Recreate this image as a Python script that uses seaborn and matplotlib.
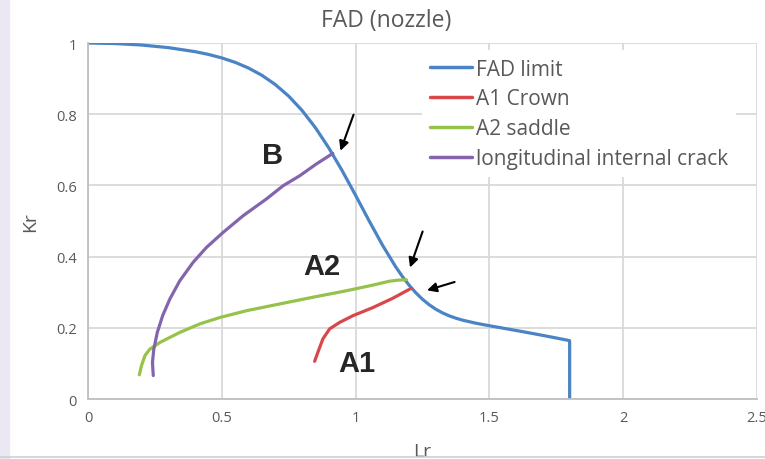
import pandas as pd
import matplotlib.pyplot as plt
import seaborn as sns
from matplotlib.patches import Rectangle
from matplotlib.lines import Line2D

# data
fad_lr = [0, 0.1, 0.2, 0.3, 0.4, 0.45, 0.5, 0.55, 0.6, 0.65, 0.7, 0.75, 0.8, 0.85, 0.9,
          0.95, 1.0, 1.05, 1.1, 1.15, 1.175, 1.2, 1.225, 1.25, 1.275, 1.3, 1.325, 1.35,
          1.375, 1.4, 1.45, 1.5, 1.55, 1.6, 1.65, 1.7, 1.75, 1.8, 1.8]
fad_kr = [1.0, 0.9986, 0.9944, 0.9871, 0.9758, 0.968, 0.9582, 0.9457, 0.9297, 0.9093,
          0.8834, 0.8508, 0.8106, 0.762, 0.7053, 0.6413, 0.5723, 0.5014, 0.433, 0.3713,
          0.3441, 0.3198, 0.2985, 0.2802, 0.2649, 0.2522, 0.2419, 0.2336, 0.227, 0.2215,
          0.2129, 0.2058, 0.1992, 0.1925, 0.1857, 0.1786, 0.1714, 0.1639, 0.0]

a1_lr = [0.847, 0.859, 0.878, 0.903, 0.94, 0.99, 1.065, 1.139, 1.208]
a1_kr = [0.106, 0.131, 0.169, 0.197, 0.215, 0.234, 0.257, 0.283, 0.311]

a2_lr = [0.192, 0.2, 0.213, 0.231, 0.269, 0.343, 0.418, 0.493, 0.592, 0.716, 0.841,
         0.965, 1.065, 1.127, 1.16, 1.19]
a2_kr = [0.068, 0.094, 0.122, 0.14, 0.159, 0.187, 0.211, 0.229, 0.248, 0.267, 0.286,
         0.304, 0.32, 0.331, 0.334, 0.335]

lic_lr = [0.244, 0.241, 0.246, 0.259, 0.279, 0.306, 0.343, 0.393, 0.443, 0.505, 0.58,
          0.667, 0.729, 0.791, 0.853, 0.915]
lic_kr = [0.066, 0.103, 0.14, 0.187, 0.234, 0.281, 0.332, 0.384, 0.426, 0.468, 0.515,
          0.562, 0.599, 0.627, 0.66, 0.69]

series_names = ['FAD limit', 'A1 Crown', 'A2 saddle', 'longitudinal internal crack']
colors = ['#4a84c4', '#d9474a', '#97c24a', '#8465ad']

frames = []
for name, xs, ys in zip(series_names, [fad_lr, a1_lr, a2_lr, lic_lr],
                        [fad_kr, a1_kr, a2_kr, lic_kr]):
    frames.append(pd.DataFrame({'Lr': xs, 'Kr': ys, 'series': name}))
df = pd.concat(frames, ignore_index=True)

sns.set_style('whitegrid')
plt.rcParams['font.family'] = ['Open Sans', 'DejaVu Sans']

fig = plt.figure(figsize=(7.65, 4.6), dpi=100)
ax = fig.add_axes([0.115, 0.1304, 0.8745, 0.7739])

sns.lineplot(data=df, x='Lr', y='Kr', hue='series', hue_order=series_names,
             palette=colors, sort=False, estimator=None, linewidth=2.3, ax=ax)

ax.set_xlim(0, 2.5)
ax.set_ylim(0, 1)
ax.set_xticks([0, 0.5, 1, 1.5, 2, 2.5])
ax.set_xticklabels(['0', '0.5', '1', '1.5', '2', '2.5'])
ax.set_yticks([0, 0.2, 0.4, 0.6, 0.8, 1])
ax.set_yticklabels(['0', '0.2', '0.4', '0.6', '0.8', '1'])
ax.tick_params(colors='#595959', labelsize=10.5, length=0, pad=8)
ax.grid(True, color='#d9d9d9', linewidth=1.3)
ax.set_axisbelow(True)
for side in ['top', 'right']:
    ax.spines[side].set_visible(False)
for side in ['left', 'bottom']:
    ax.spines[side].set_color('#bfbfbf')
    ax.spines[side].set_linewidth(1.3)

ax.set_xlabel('Lr', fontsize=14, color='#595959', labelpad=12)
ax.set_ylabel('Kr', fontsize=14, color='#595959', labelpad=12)
fig.text(0.505, 0.955, 'FAD (nozzle)', ha='center', va='center', fontsize=16.5, color='#595959')

leg = ax.legend(loc='upper left', bbox_to_anchor=(0.488, 1.0), fontsize=15, frameon=True,
                facecolor='white', edgecolor='none', framealpha=1, handlelength=2.0,
                handletextpad=0.2, labelspacing=0.42, borderaxespad=0.35)
for txt in leg.get_texts():
    txt.set_color('#595959')
for line in leg.get_lines():
    line.set_linewidth(2.5)

bold = dict(fontsize=21, fontweight='bold', family='Liberation Sans', ha='center', va='center')
ax.text(0.69, 0.685, 'B', **bold)
ax.text(0.873, 0.374, 'A2', **bold)
ax.text(1.004, 0.101, 'A1', **bold)

arrow = dict(arrowstyle='-|>', color='black', lw=1.5, mutation_scale=14)
ax.annotate('', xy=(0.94, 0.69), xytext=(0.996, 0.806), arrowprops=arrow)
ax.annotate('', xy=(1.20, 0.362), xytext=(1.254, 0.478), arrowprops=arrow)
ax.annotate('', xy=(1.257, 0.303), xytext=(1.38, 0.331), arrowprops=arrow)

# faint screenshot edges
fig.patches.append(Rectangle((0, 0), 0.012, 1, transform=fig.transFigure,
                             color='#ebe8f4', zorder=-1))
fig.lines.append(Line2D([0, 1], [0.004, 0.004], transform=fig.transFigure,
                        color='#cfcfcf', linewidth=1.2))

fig.savefig('out.png', dpi=100)
